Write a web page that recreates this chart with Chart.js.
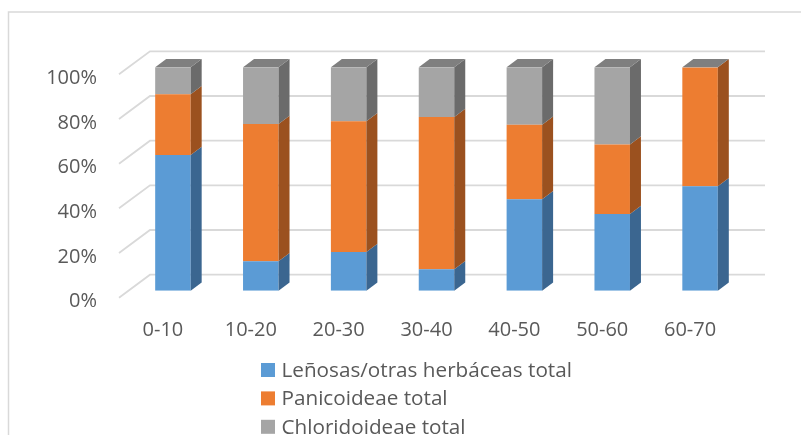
<!DOCTYPE html>
<html>
<head>
<meta charset="utf-8">
<script src="https://cdn.jsdelivr.net/npm/chart.js@4/dist/chart.umd.min.js"></script>
<style>
  html, body { margin: 0; padding: 0; background: #ffffff; }
  #wrap { position: relative; width: 801px; height: 435px; }
</style>
</head>
<body>
<div id="wrap"><canvas id="c" width="801" height="435"></canvas></div>
<script>
// ---- data ----
const categories = ['0-10', '10-20', '20-30', '30-40', '40-50', '50-60', '60-70'];
const seriesNames = ['Leñosas/otras herbáceas total', 'Panicoideae total', 'Chloridoideae total'];
const lenosas = [60.7, 13.2, 17.3, 9.6, 40.9, 34.3, 46.7];
const panicoideae = [27.2, 61.4, 58.5, 68.1, 33.4, 31.1, 53.3];
const chloridoideae = [12.1, 25.4, 24.2, 22.3, 25.7, 34.6, 0];
const yTicks = [0, 20, 40, 60, 80, 100];

// ---- styles ----
const frontColors = ['#5b9bd5', '#ed7d31', '#a5a5a5'];
const sideColors = ['#3b6690', '#9b511f', '#6b6b6b'];
const topColor = '#7f7f7f';
const DX = 11, DY = 8.3;          // bar depth
const BACK_DX = 21, BACK_DY = 16;  // back wall offset from bar front
const FRONT_DX = 10, FRONT_DY = 7; // front plane offset
const textColor = '#595959';
const FONT = '"Open Sans", "Liberation Sans", sans-serif';

const gridPlugin = {
  id: 'grid3d',
  beforeDatasetsDraw(chart) {
    const ctx = chart.ctx, ys = chart.scales.y, a = chart.chartArea;
    ctx.save();
    ctx.strokeStyle = '#d9d9d9';
    ctx.lineWidth = 1.8;
    yTicks.forEach(v => {
      const yv = ys.getPixelForValue(v);
      const yb = yv - BACK_DY;
      ctx.beginPath();
      ctx.moveTo(a.left - FRONT_DX, yv + FRONT_DY);
      ctx.lineTo(a.left + BACK_DX, yb);
      ctx.lineTo(a.right + BACK_DX, yb);
      ctx.stroke();
    });
    ctx.restore();
  },
  afterDatasetsDraw(chart) {
    const ctx = chart.ctx;
    const n = chart.data.datasets.length;
    ctx.save();
    for (let d = 0; d < n; d++) {
      const meta = chart.getDatasetMeta(d);
      meta.data.forEach(bar => {
        const p = bar.getProps(['x', 'y', 'base', 'width'], true);
        const l = p.x - p.width / 2, r = p.x + p.width / 2;
        const top = Math.min(p.y, p.base), bot = Math.max(p.y, p.base);
        if (bot - top > 0.01) {
          ctx.fillStyle = sideColors[d];
          ctx.beginPath();
          ctx.moveTo(r, bot);
          ctx.lineTo(r + DX, bot - DY);
          ctx.lineTo(r + DX, top - DY);
          ctx.lineTo(r, top);
          ctx.closePath();
          ctx.fill();
        }
        if (d === n - 1) {
          ctx.fillStyle = topColor;
          ctx.beginPath();
          ctx.moveTo(l, top);
          ctx.lineTo(l + DX, top - DY);
          ctx.lineTo(r + DX, top - DY);
          ctx.lineTo(r, top);
          ctx.closePath();
          ctx.fill();
        }
      });
    }
    ctx.restore();
  },
  afterDraw(chart) {
    const ctx = chart.ctx;
    ctx.save();
    // outer frame
    ctx.strokeStyle = '#d9d9d9';
    ctx.lineWidth = 1.5;
    ctx.beginPath();
    ctx.moveTo(8.5, 435);
    ctx.lineTo(8.5, 12);
    ctx.lineTo(801, 12);
    ctx.stroke();
    // legend
    const lx = 261, ly0 = 370, step = 28.4, box = 14;
    ctx.font = '20.7px ' + FONT;
    ctx.textBaseline = 'middle';
    ctx.textAlign = 'left';
    chart.data.datasets.forEach((ds, i) => {
      const cy = ly0 + i * step;
      ctx.fillStyle = ds.backgroundColor;
      ctx.fillRect(lx, cy - box / 2, box, box);
      ctx.fillStyle = textColor;
      ctx.fillText(ds.label, lx + 20.5, cy + 1);
    });
    ctx.restore();
  }
};

new Chart(document.getElementById('c'), {
  type: 'bar',
  data: {
    labels: categories,
    datasets: [
      { label: seriesNames[0], data: lenosas, backgroundColor: frontColors[0] },
      { label: seriesNames[1], data: panicoideae, backgroundColor: frontColors[1] },
      { label: seriesNames[2], data: chloridoideae, backgroundColor: frontColors[2] }
    ]
  },
  options: {
    responsive: false,
    animation: false,
    layout: { padding: { left: 0, right: 57, top: 67.3, bottom: 0 } },
    datasets: { bar: { categoryPercentage: 1, barPercentage: 0.404, borderWidth: 0 } },
    plugins: { legend: { display: false }, tooltip: { enabled: false } },
    scales: {
      x: {
        stacked: true,
        grid: { display: false, drawTicks: false },
        border: { display: false },
        ticks: { color: textColor, font: { family: FONT, size: 20 }, padding: 27.7, labelOffset: -10, maxRotation: 0 },
        afterFit(s) { s.height = 435 - 290.7; }
      },
      y: {
        stacked: true,
        min: 0, max: 100,
        afterBuildTicks(s) { s.ticks = yTicks.map(v => ({ value: v })); },
        grid: { display: false, drawTicks: false },
        border: { display: false },
        ticks: { color: textColor, font: { family: FONT, size: 20 }, padding: 32, labelOffset: 11, callback: v => v + '%' },
        afterFit(s) { s.width = 129; }
      }
    }
  },
  plugins: [gridPlugin]
});
</script>
</body>
</html>
